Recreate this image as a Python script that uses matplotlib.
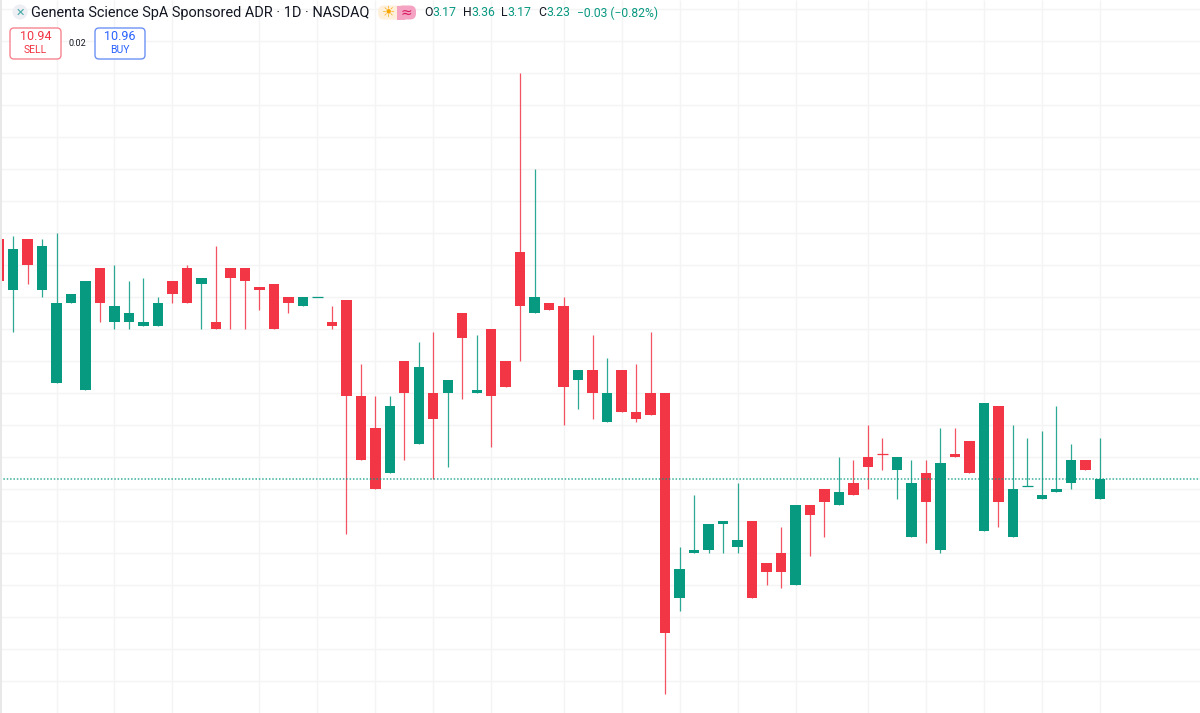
import matplotlib
matplotlib.use('Agg')
import matplotlib.pyplot as plt
from matplotlib.patches import FancyBboxPatch, Circle, Rectangle

GREEN = '#089981'
RED = '#F23645'
GRID = '#f4f4f4'

opens = [3.98, 3.82, 3.98, 3.82, 3.53, 3.78, 3.51, 3.89, 3.72, 3.72, 3.71, 3.71, 3.85, 3.89, 3.84, 3.72,
         3.89, 3.89, 3.83, 3.84, 3.80, 3.77, 3.80, 3.72, 3.79, 3.49, 3.39, 3.25, 3.60, 3.34, 3.50, 3.50,
         3.75, 3.50, 3.70, 3.60, 3.94, 3.75, 3.78, 3.77, 3.54, 3.57, 3.41, 3.57, 3.44, 3.50, 3.50, 2.86,
         3.00, 3.01, 3.09, 3.02, 3.10, 2.97, 3.00, 2.90, 3.15, 3.20, 3.15, 3.22, 3.30, 3.31, 3.26, 3.05,
         3.25, 3.01, 3.31, 3.35, 3.07, 3.46, 3.05, 3.21, 3.17, 3.19, 3.22, 3.29, 3.17]
highs = [3.98, 3.99, 3.98, 3.98, 4.00, 3.81, 3.85, 3.89, 3.90, 3.85, 3.86, 3.80, 3.85, 3.90, 3.86, 3.96,
         3.89, 3.89, 3.83, 3.84, 3.80, 3.80, 3.80, 3.77, 3.79, 3.59, 3.49, 3.49, 3.60, 3.66, 3.69, 3.54,
         3.75, 3.68, 3.70, 3.60, 4.50, 4.20, 3.78, 3.80, 3.57, 3.68, 3.61, 3.57, 3.59, 3.69, 3.50, 3.02,
         3.18, 3.09, 3.10, 3.22, 3.10, 2.97, 3.08, 3.15, 3.15, 3.20, 3.30, 3.29, 3.40, 3.36, 3.30, 3.29,
         3.29, 3.39, 3.39, 3.35, 3.47, 3.46, 3.40, 3.36, 3.38, 3.46, 3.34, 3.29, 3.36]
lows = [3.85, 3.69, 3.84, 3.80, 3.53, 3.78, 3.51, 3.72, 3.70, 3.70, 3.71, 3.71, 3.78, 3.78, 3.70, 3.70,
        3.70, 3.70, 3.76, 3.70, 3.75, 3.77, 3.80, 3.70, 3.06, 3.29, 3.20, 3.25, 3.29, 3.34, 3.23, 3.27,
        3.48, 3.50, 3.33, 3.52, 3.60, 3.75, 3.76, 3.40, 3.45, 3.42, 3.41, 3.44, 3.41, 3.43, 2.56, 2.82,
        3.00, 3.00, 3.00, 3.00, 2.86, 2.90, 2.89, 2.90, 2.99, 3.05, 3.15, 3.18, 3.20, 3.26, 3.17, 3.05,
        3.03, 3.00, 3.30, 3.25, 3.07, 3.08, 3.05, 3.21, 3.17, 3.19, 3.20, 3.26, 3.17]
closes = [3.85, 3.95, 3.90, 3.96, 3.78, 3.81, 3.85, 3.78, 3.77, 3.75, 3.72, 3.78, 3.81, 3.78, 3.86, 3.70,
          3.86, 3.85, 3.82, 3.70, 3.78, 3.80, 3.80, 3.71, 3.49, 3.29, 3.20, 3.46, 3.50, 3.58, 3.42, 3.54,
          3.67, 3.51, 3.49, 3.52, 3.77, 3.80, 3.76, 3.52, 3.57, 3.50, 3.50, 3.44, 3.42, 3.43, 2.75, 2.95,
          3.01, 3.09, 3.10, 3.04, 2.86, 2.94, 2.94, 3.15, 3.12, 3.16, 3.19, 3.18, 3.27, 3.31, 3.30, 3.22,
          3.16, 3.28, 3.30, 3.25, 3.47, 3.16, 3.20, 3.21, 3.18, 3.20, 3.29, 3.26, 3.23]
# first bar is the red one cut off by the left edge, so the colour can't come from open/close alone on dojis
bar_up = [False, True, False, True, True, True, True, False, True, True, True, True, False, False, True, False,
          False, False, False, False, False, True, True, False, False, False, False, True, False, True, False, True,
          False, True, False, False, False, True, False, False, True, False, True, False, False, False, False, True,
          True, True, True, True, False, False, False, True, False, False, True, False, False, False, True, True,
          False, True, False, False, True, False, True, True, True, True, True, False, True]

price_ticks = [2.6, 2.7, 2.8, 2.9, 3.0, 3.1, 3.2, 3.3, 3.4, 3.5, 3.6, 3.7, 3.8, 3.9, 4.0, 4.1, 4.2, 4.3, 4.4, 4.5, 4.6, 4.7]
time_ticks = [4, 8, 12, 18, 22, 26, 30, 34, 39, 43, 47, 51, 55, 60, 64, 68, 72, 76]
last_close = 3.23

fig = plt.figure(figsize=(12, 7.13), dpi=100)
ax = fig.add_axes([0, 0, 1, 1])
ax.set_xlim(0.1, 82.915)
ax.set_ylim(2.5007, 4.7267)
ax.axis('off')

ax.vlines(time_ticks, 2.5007, 4.7267, color=GRID, lw=1.0, zorder=1)
ax.hlines(price_ticks, 0.1, 82.915, color=GRID, lw=1.0, zorder=1)

for i in range(len(opens)):
    col = GREEN if bar_up[i] else RED
    ax.vlines(i, lows[i], highs[i], color=col, lw=0.9, alpha=0.85, zorder=2)
    bottom = min(opens[i], closes[i])
    height = abs(closes[i] - opens[i])
    if height == 0:
        ax.hlines(opens[i], i - 0.36, i + 0.36, color=col, lw=0.9, zorder=3)
    else:
        ax.bar(i, height, 0.72, bottom=bottom, color=col, lw=0, zorder=3)

ax.axhline(last_close, color=GREEN, lw=1.1, ls=(0, (1, 1.2)), alpha=0.8, zorder=4)

# overlay in picture pixels for the TradingView header
top = fig.add_axes([0, 0, 1, 1], facecolor='none')
top.set_xlim(0, 1200)
top.set_ylim(713, 0)
top.axis('off')

top.add_patch(Rectangle((0, 0), 2, 713, color='#e8e8e8', lw=0))

font = 'Roboto'
dark = '#131722'
top.add_patch(Circle((20, 12), 7.5, color='#edeff5', lw=0))
top.text(20, 12.5, '✕', color='#3fa7a0', fontsize=8, ha='center', va='center', family='DejaVu Sans')
top.text(31, 13, 'Genenta Science SpA Sponsored ADR · 1D · NASDAQ', color=dark, fontsize=10.45,
         family=font, ha='left', va='center')

# session / market badges
top.add_patch(FancyBboxPatch((378, 5.5), 30, 14, boxstyle='round,pad=0,rounding_size=6', fc='#fff0dc', ec='none'))
top.add_patch(FancyBboxPatch((397, 5.5), 19, 14, boxstyle='round,pad=0,rounding_size=6', fc='#f5a3c2', ec='none'))
top.add_patch(Rectangle((397, 5.5), 8, 14, color='#f5a3c2', lw=0))
top.text(388, 11.5, '☀', color='#f7a600', fontsize=10.5, ha='center', va='center', family='DejaVu Sans')
top.text(406.5, 12.5, '≈', color='#d81b60', fontsize=10, ha='center', va='center', family='DejaVu Sans')

ohlc_x = [424, 463, 501, 538]
ohlc_lab = ['O', 'H', 'L', 'C']
ohlc_val = ['3.17', '3.36', '3.17', '3.23']
for x, lab, val in zip(ohlc_x, ohlc_lab, ohlc_val):
    top.text(x, 13, lab, color=dark, fontsize=8.8, family=font, ha='left', va='center')
    top.text(x + (8.5 if lab != 'L' else 6.5), 13, val, color=GREEN, fontsize=8.8, family=font, ha='left', va='center')
top.text(577, 13, '−0.03 (−0.82%)', color=GREEN, fontsize=8.7, family=font, ha='left', va='center')

# sell and buy buttons
top.add_patch(FancyBboxPatch((10, 28), 51, 31, boxstyle='round,pad=0,rounding_size=4', fc='white', ec='#f7848f', lw=1))
top.text(35.5, 37, '10.94', color=RED, fontsize=9, family=font, ha='center', va='center')
top.text(35.5, 50, 'SELL', color=RED, fontsize=7.5, family=font, ha='center', va='center')
top.text(77.5, 43.5, '0.02', color=dark, fontsize=6.5, family=font, ha='center', va='center')
top.add_patch(FancyBboxPatch((95, 28), 50, 31, boxstyle='round,pad=0,rounding_size=4', fc='white', ec='#6d92f5', lw=1))
top.text(120, 37, '10.96', color='#2962FF', fontsize=9, family=font, ha='center', va='center')
top.text(120, 50, 'BUY', color='#2962FF', fontsize=7.5, family=font, ha='center', va='center')

fig.savefig('out.png', dpi=100, facecolor='white')
